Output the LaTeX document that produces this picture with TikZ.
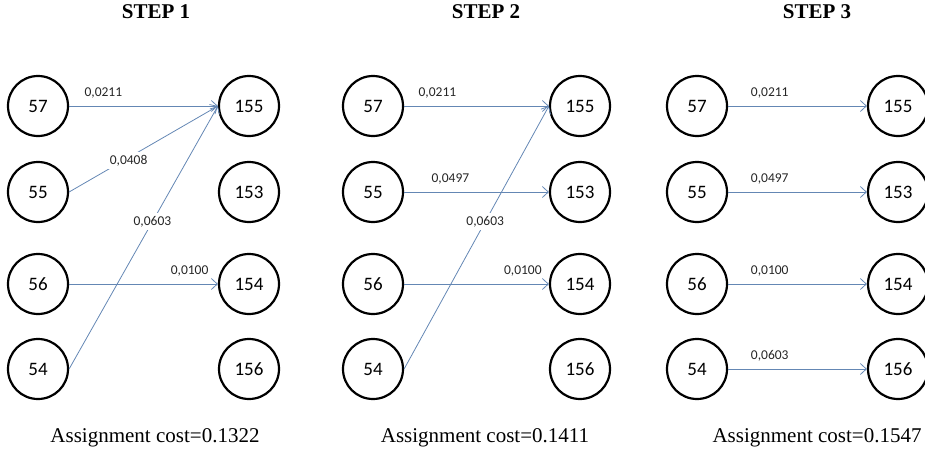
\documentclass[tikz,border=0pt]{standalone}
\usepackage{fontspec}
\setmainfont{Liberation Serif}
\newfontfamily\calibri{Carlito}
\usepackage{xcolor}
\usepackage{tikz}
\usetikzlibrary{arrows.meta}
\definecolor{linkblue}{RGB}{100,135,180}

\begin{document}
\begin{tikzpicture}[x=1pt,y=-1pt,
    vertex/.style={circle,draw,line width=2.2pt,minimum size=60pt,inner sep=0pt,
      font=\calibri\fontsize{19}{19}\selectfont},
    link/.style={draw=linkblue,line width=0.8pt,-{Straight Barb[length=6pt,width=11pt]}},
    cost/.style={font=\calibri\fontsize{13.5}{14}\selectfont,text=black!85,inner sep=1pt},
    gap/.style={fill=white,inner sep=3pt},
    title/.style={anchor=base,font=\bfseries\fontsize{21}{21}\selectfont},
    total/.style={anchor=base,font=\fontsize{21}{21}\selectfont}]
  \useasboundingbox (0,0) rectangle (925,450);
      % Step 1
      \node[title] (T1) at (156,18) {STEP 1};
      \node[vertex] (a57) at (38,106) {57};
      \node[vertex] (a55) at (38,192) {55};
      \node[vertex] (a56) at (38,284) {56};
      \node[vertex] (a54) at (38,369) {54};
      \node[vertex] (a155) at (249,106) {155};
      \node[vertex] (a153) at (249,192) {153};
      \node[vertex] (a154) at (249,284) {154};
      \node[vertex] (a156) at (249,369) {156};
      \node[total] (S1) at (155,442) {Assignment cost=0.1322};
      \draw[link] (a57.east) -- node[cost,above=6pt,pos=.23] (w1a) {0,0211} (a155.west);
      \draw[link] (a55.east) -- node[cost,gap,pos=.40,yshift=-3pt] (w1b) {0,0408} (a155.west);
      \draw[link] (a54.east) -- node[cost,gap,pos=.56] (w1c) {0,0603} (a155.west);
      \draw[link] (a56.east) -- node[cost,above=6pt,pos=.81] (w1d) {0,0100} (a154.west);
      % Step 2
      \node[title] (T2) at (486,18) {STEP 2};
      \node[vertex] (b57) at (373,106) {57};
      \node[vertex] (b55) at (373,192) {55};
      \node[vertex] (b56) at (373,284) {56};
      \node[vertex] (b54) at (373,369) {54};
      \node[vertex] (b155) at (580,106) {155};
      \node[vertex] (b153) at (580,192) {153};
      \node[vertex] (b154) at (580,284) {154};
      \node[vertex] (b156) at (580,369) {156};
      \node[total] (S2) at (485,442) {Assignment cost=0.1411};
      \draw[link] (b57.east) -- node[cost,above=6pt,pos=.23] (w2a) {0,0211} (b155.west);
      \draw[link] (b55.east) -- node[cost,above=6pt,pos=.32] (w2b) {0,0497} (b153.west);
      \draw[link] (b54.east) -- node[cost,gap,pos=.56] (w2c) {0,0603} (b155.west);
      \draw[link] (b56.east) -- node[cost,above=6pt,pos=.82] (w2d) {0,0100} (b154.west);
      % Step 3
      \node[title] (T3) at (817,18) {STEP 3};
      \node[vertex] (c57) at (697,106) {57};
      \node[vertex] (c55) at (697,192) {55};
      \node[vertex] (c56) at (697,284) {56};
      \node[vertex] (c54) at (697,369) {54};
      \node[vertex] (c155) at (898,106) {155};
      \node[vertex] (c153) at (898,192) {153};
      \node[vertex] (c154) at (898,284) {154};
      \node[vertex] (c156) at (898,369) {156};
      \node[total] (S3) at (817,442) {Assignment cost=0.1547};
      \draw[link] (c57.east) -- node[cost,above=6pt,pos=.30] (w3a) {0,0211} (c155.west);
      \draw[link] (c55.east) -- node[cost,above=6pt,pos=.30] (w3b) {0,0497} (c153.west);
      \draw[link] (c56.east) -- node[cost,above=6pt,pos=.30] (w3c) {0,0100} (c154.west);
      \draw[link] (c54.east) -- node[cost,above=6pt,pos=.30] (w3d) {0,0603} (c156.west);
    \end{tikzpicture}
\end{document}
